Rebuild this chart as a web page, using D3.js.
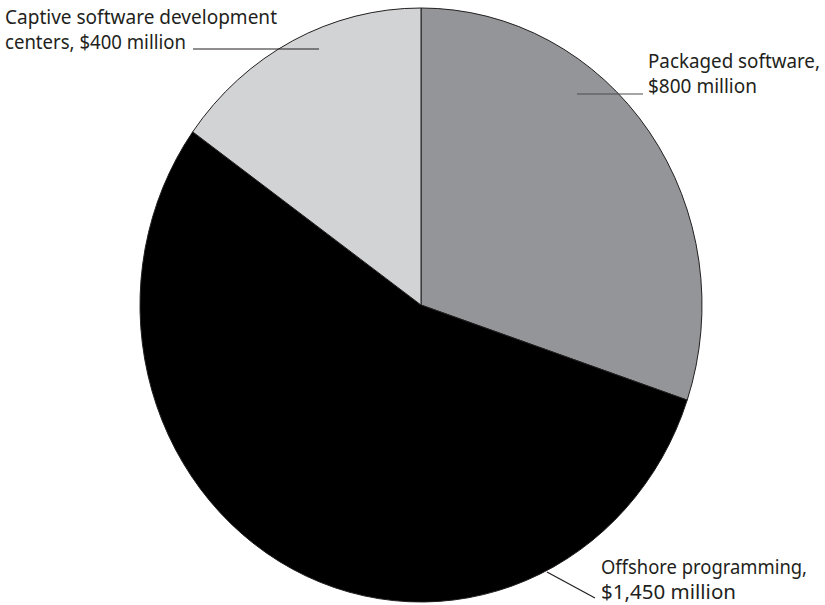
<!DOCTYPE html>
<html>
<head>
<meta charset="utf-8">
<script src="https://cdn.jsdelivr.net/npm/d3@7"></script>
<style>
  html, body { margin: 0; padding: 0; background: #fff; }
  svg { display: block; }
  text { font-family: "Noto Sans", "Open Sans", sans-serif; font-size: 19px; fill: #231f20; }
</style>
</head>
<body>
<svg id="chart" width="825" height="605"></svg>
<script>
// Segments of the market, in millions of dollars (clockwise from 12 o'clock)
const categories = ["Packaged software", "Offshore programming", "Captive software development centers"];
const values = [800, 1450, 400];
const valueLabels = ["$800 million", "$1,450 million", "$400 million"];
const colors = ["#939598", "#000000", "#d1d3d4"];

const width = 825, height = 605;
const cx = 421, cy = 305, rx = 281, ry = 297;

const svg = d3.select("#chart");

const pie = d3.pie().value(d => d).sort(null);
const arcs = pie(values);
const arc = d3.arc().innerRadius(0).outerRadius(ry);

// The pie is slightly taller than wide, so draw it on a circle and stretch horizontally
const g = svg.append("g")
  .attr("transform", `translate(${cx},${cy}) scale(${rx / ry},1)`);

g.selectAll("path")
  .data(arcs)
  .join("path")
  .attr("d", arc)
  .attr("fill", (d, i) => colors[i])
  .attr("stroke", "#231f20")
  .attr("stroke-width", 1)
  .attr("vector-effect", "non-scaling-stroke");

// Labels with leader lines
const labels = [
  { lines: ["Packaged software,", valueLabels[0]], x: 648, y: 68, widths: [172, 109],
    leader: [[577, 94], [643, 94]], stroke: "#4d4d4f" },
  { lines: ["Offshore programming,", valueLabels[1]], x: 601, y: 574, widths: [206, 135],
    leader: [[547, 572], [595, 598]], stroke: "#231f20" },
  { lines: ["Captive software development", "centers, " + valueLabels[2]], x: 5, y: 24, widths: [272, 181],
    leader: [[193, 49], [319, 49]], stroke: "#231f20" }
];

const lg = svg.append("g");
labels.forEach(l => {
  lg.append("line")
    .attr("x1", l.leader[0][0]).attr("y1", l.leader[0][1])
    .attr("x2", l.leader[1][0]).attr("y2", l.leader[1][1])
    .attr("stroke", l.stroke).attr("stroke-width", 1.2);
  l.lines.forEach((t, i) => {
    lg.append("text")
      .attr("x", l.x)
      .attr("y", l.y + i * 25)
      .attr("textLength", l.widths[i])
      .attr("lengthAdjust", "spacingAndGlyphs")
      .text(t);
  });
});
</script>
</body>
</html>
